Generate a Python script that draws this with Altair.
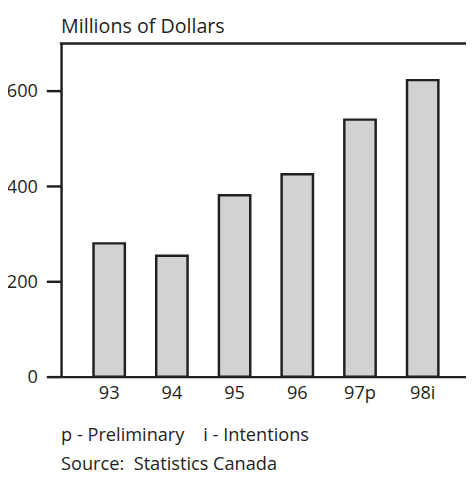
import altair as alt
import pandas as pd

# ---- data ----
years = ["93", "94", "95", "96", "97p", "98i"]
values = [280, 254, 381, 425, 540, 623]
y_ticks = [0, 200, 400, 600]
title_text = ["Millions of Dollars"]
note_lines = ["p - Preliminary\u00a0\u00a0\u00a0\u00a0i - Intentions", "Source:\u00a0\u00a0Statistics Canada"]

W, H = 412, 339
INK = "#231f20"
FONT = "Open Sans"

df = pd.DataFrame({"year": years, "value": values})

bars = alt.Chart(df).mark_bar(fill="#d1d2d4", stroke=INK, strokeWidth=2.5).encode(
    x=alt.X(
        "year:N", sort=years, title=None,
        scale=alt.Scale(paddingInner=0.5, paddingOuter=0.479, align=0.54),
        axis=alt.Axis(labelAngle=0, ticks=False, domainColor=INK, domainWidth=2.5,
                      labelFont=FONT, labelFontSize=18.5, labelColor=INK, labelPadding=7),
    ),
    y=alt.Y(
        "value:Q", title=None,
        scale=alt.Scale(domain=[0, 700], nice=False),
        axis=alt.Axis(values=y_ticks, grid=False, tickSize=15, tickWidth=2.5, tickColor=INK,
                      domainWidth=2.5, domainColor=INK, labelPadding=9,
                      labelFont=FONT, labelFontSize=18.5, labelColor=INK),
    ),
)

top_rule = alt.Chart(pd.DataFrame({"k": [0]})).mark_rule(color=INK, strokeWidth=2.5).encode(
    x=alt.value(-1.25), x2=alt.value(W), y=alt.value(0)
)

title = alt.Chart(pd.DataFrame({"t": title_text})).mark_text(
    align="left", baseline="alphabetic", font=FONT, fontSize=20, color=INK
).encode(x=alt.value(0), y=alt.value(-10.5), text="t:N")

note1 = alt.Chart(pd.DataFrame({"t": [note_lines[0]]})).mark_text(
    align="left", baseline="alphabetic", font=FONT, fontSize=18.5, color=INK
).encode(x=alt.value(0), y=alt.value(404), text="t:N")

note2 = alt.Chart(pd.DataFrame({"t": [note_lines[1]]})).mark_text(
    align="left", baseline="alphabetic", font=FONT, fontSize=18.5, color=INK
).encode(x=alt.value(0), y=alt.value(434), text="t:N")

chart = alt.layer(bars, top_rule, title, note1, note2).properties(
    width=W, height=H,
    autosize=alt.AutoSizeParams(type="none"),
    padding={"left": 54, "top": 32, "right": 0, "bottom": 96},
).configure_view(stroke=None).configure(background="white")

chart.save("out.html", embed_options={"renderer": "svg", "actions": False})
